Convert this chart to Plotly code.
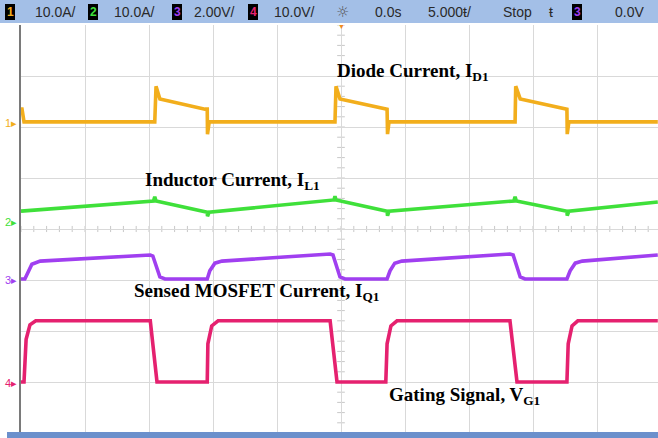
import plotly.graph_objects as go

# ---- Data (oscilloscope divisions: x = time div (5 us/div), y = vertical div) ----
ch1_t = [-5.0, -4.984, -4.953, -2.91, -2.89, -2.83, -2.125, -2.09, -2.086, -2.06,
         -0.094, -0.078, -0.016, 0.69, 0.72, 0.727, 0.75,
         2.72, 2.73, 2.80, 3.50, 3.53, 3.535, 3.56, 4.95]
ch1_v = [2.35, 2.35, 2.10, 2.10, 2.80, 2.55, 2.35, 2.35, 1.86, 2.10,
         2.10, 2.80, 2.55, 2.35, 2.35, 1.86, 2.10,
         2.10, 2.80, 2.55, 2.35, 2.35, 1.86, 2.10, 2.10]

ch2_t = [-5.0, -2.93, -2.91, -2.89, -2.09, -2.086, -2.06, -0.11, -0.094, -0.078,
         0.72, 0.727, 0.75, 2.70, 2.72, 2.74, 3.53, 3.535, 3.56, 4.95]
ch2_v = [0.35, 0.55, 0.63, 0.55, 0.33, 0.25, 0.33, 0.57, 0.64, 0.57,
         0.35, 0.26, 0.35, 0.55, 0.63, 0.55, 0.35, 0.26, 0.35, 0.53]

ch3_t = [-5.0, -4.94, -4.83, -4.70, -2.98, -2.94, -2.83, -2.75, -2.09, -2.05, -1.97, -1.86,
         -0.17, -0.125, -0.016, 0.0625, 0.72, 0.766, 0.84, 0.95,
         2.64, 2.69, 2.80, 2.875, 3.53, 3.58, 3.66, 3.77, 4.95]
ch3_v = [-0.98, -0.98, -0.69, -0.63, -0.51, -0.53, -0.94, -0.98, -0.98, -0.82, -0.67, -0.63,
         -0.49, -0.51, -0.94, -0.98, -0.98, -0.82, -0.67, -0.63,
         -0.49, -0.51, -0.94, -0.98, -0.98, -0.82, -0.67, -0.63, -0.51]

ch4_t = [-5.0, -4.953, -4.92, -4.86, -4.77, -2.98, -2.875, -2.09, -2.08, -2.02, -1.92,
         -0.17, -0.0625, 0.70, 0.72, 0.78, 0.875,
         2.64, 2.75, 3.53, 3.55, 3.61, 3.70, 4.95]
ch4_v = [-3.0, -3.0, -2.16, -1.88, -1.80, -1.80, -3.0, -3.0, -2.25, -1.90, -1.80,
         -1.80, -3.0, -3.0, -2.25, -1.90, -1.80,
         -1.80, -3.0, -3.0, -2.25, -1.90, -1.80, -1.80]

channel_colors = ["#f2ae1c", "#3fe03a", "#a03ff0", "#e5216f"]

labels = ["Diode Current, I<sub>D1</sub>", "Inductor Current, I<sub>L1</sub>",
          "Sensed MOSFET Current, I<sub>Q1</sub>", "Gating Signal, V<sub>G1</sub>"]
label_x = [-0.094, -3.094, -3.27, 0.72]
label_y = [3.08, 0.94, -1.235, -3.27]

scale_texts = ["10.0A/", "10.0A/", "2.00V/", "10.0V/"]
status_texts = ["0.0s", "5.000ŧ/", "Stop", "ŧ", "0.0V"]

W, H = 658, 438
L, T, B = 21, 25, 5
PW, PH = W - L, H - T - B


def px(xp):
    return (xp - L) / PW


def py(yp):
    return (H - B - yp) / PH


fig = go.Figure()
for t, v, c in zip([ch1_t, ch2_t, ch3_t, ch4_t], [ch1_v, ch2_v, ch3_v, ch4_v], channel_colors):
    fig.add_trace(go.Scatter(x=t, y=v, mode="lines", line=dict(color=c, width=3.6),
                             hoverinfo="skip"))

shapes = []
# top status bar
shapes.append(dict(type="rect", xref="paper", yref="paper", x0=px(0), x1=px(W),
                   y0=py(23), y1=py(0), fillcolor="#a3bfe7", line=dict(width=0), layer="above"))
# bottom band
shapes.append(dict(type="rect", xref="paper", yref="paper", x0=px(7), x1=px(W),
                   y0=py(H), y1=py(432), fillcolor="#6b90cc", line=dict(width=0), layer="above"))
# channel boxes in the status bar
box_x = [10, 93, 177, 253, 577]
box_c = channel_colors + [channel_colors[2]]
for bx in box_x:
    shapes.append(dict(type="rect", xref="paper", yref="paper", x0=px(bx - 5), x1=px(bx + 5),
                       y0=py(20), y1=py(4), fillcolor="black", line=dict(width=0), layer="above"))
# center-line minor ticks
for k in range(-25, 25):
    xv = k / 5
    shapes.append(dict(type="line", x0=xv, x1=xv, y0=-0.06, y1=0.06,
                       line=dict(color="#c8c8c8", width=1), layer="below"))
for k in range(-20, 21):
    yv = k / 5
    shapes.append(dict(type="line", x0=-0.06, x1=0.06, y0=yv, y1=yv,
                       line=dict(color="#c8c8c8", width=1), layer="below"))

annotations = []
for txt, x, y in zip(labels, label_x, label_y):
    annotations.append(dict(x=x, y=y, text="<b>" + txt + "</b>", showarrow=False,
                            xanchor="left", yanchor="middle",
                            font=dict(family="Liberation Serif", size=19, color="black")))

box_nums = ["1", "2", "3", "4", "3"]
for bx, n, c in zip(box_x, box_nums, box_c):
    annotations.append(dict(xref="paper", yref="paper", x=px(bx), y=py(12),
                            text="<b>" + n + "</b>", showarrow=False,
                            xanchor="center", yanchor="middle",
                            font=dict(family="Liberation Sans", size=12, color=c)))
scale_x = [33, 112, 192, 272]
for i in range(4):
    annotations.append(dict(xref="paper", yref="paper", x=px(scale_x[i]), y=py(12),
                            text=scale_texts[i], showarrow=False, xanchor="left", yanchor="middle",
                            font=dict(family="Liberation Sans", size=14, color="#2a2a2a")))
# sun icon
annotations.append(dict(xref="paper", yref="paper", x=px(342), y=py(12), text="☼",
                        showarrow=False, xanchor="center", yanchor="middle",
                        font=dict(family="DejaVu Sans", size=15, color="#555555")))
status_x = [373, 426, 501, 551, 613]
for txt, xx in zip(status_texts, status_x):
    annotations.append(dict(xref="paper", yref="paper", x=px(xx), y=py(12), text=txt,
                            showarrow=False, xanchor="center" if txt == "ŧ" else "left",
                            yanchor="middle",
                            font=dict(family="Liberation Sans", size=14, color="#2a2a2a")))
# trigger position marker
annotations.append(dict(xref="paper", yref="paper", x=px(341), y=py(27), text="▼",
                        showarrow=False, xanchor="center", yanchor="middle",
                        font=dict(size=7, color="#f08a20")))
# ground markers on left
marker_y = [123, 222, 280, 383]
for i in range(4):
    annotations.append(dict(xref="paper", yref="paper", x=px(11), y=py(marker_y[i]),
                            text="%d▸" % (i + 1), showarrow=False, xanchor="center",
                            yanchor="middle",
                            font=dict(family="Liberation Sans", size=11, color=channel_colors[i])))

fig.update_layout(
    width=W, height=H,
    margin=dict(l=L, r=0, t=T, b=B, pad=0, autoexpand=False),
    paper_bgcolor="white", plot_bgcolor="white",
    showlegend=False,
    shapes=shapes, annotations=annotations,
    xaxis=dict(range=[-5, (W - L) / 64 - 5], dtick=1, tick0=0, showgrid=True,
               gridcolor="#d9d9d9", gridwidth=1, zeroline=False, showticklabels=False,
               ticks="", showline=False, fixedrange=True),
    yaxis=dict(range=[-4, 4], dtick=1, tick0=0, showgrid=True, gridcolor="#d9d9d9",
               gridwidth=1, zeroline=False, showticklabels=False, ticks="",
               showline=True, linecolor="#7a7a7a", linewidth=2, mirror=False, fixedrange=True),
)

fig.write_html("out.html", config={"displayModeBar": False},
               post_script="document.body.style.margin='0';document.body.style.overflow='hidden';")
